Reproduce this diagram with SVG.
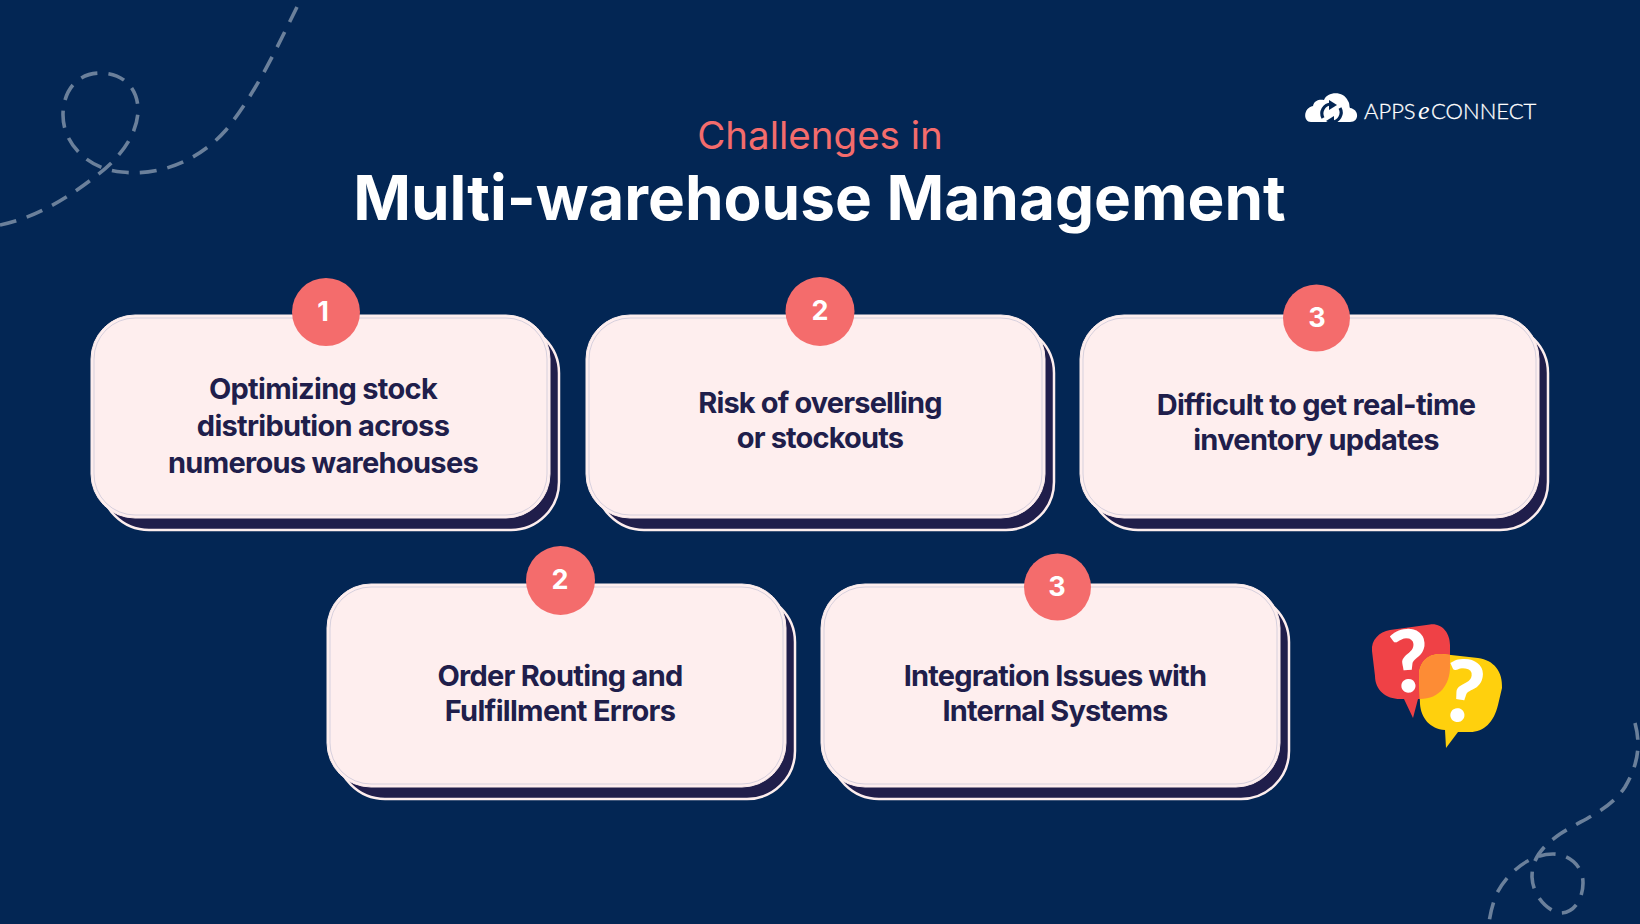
<svg xmlns="http://www.w3.org/2000/svg" width="1640" height="924" viewBox="0 0 1640 924">
<style>
.dash{fill:none;stroke:#6b809b;stroke-width:3.6;stroke-dasharray:17 11}
.back{fill:#201e4b;stroke:#fdeeee;stroke-width:2.5}
.face{fill:#feeeee;stroke:#fdeeee;stroke-width:1}
.inner{fill:none;stroke:#c6c3d6;stroke-width:.7}
.badge{fill:#f46c6c}
.num{font:700 27px Inter,"Liberation Sans",sans-serif;fill:#fff;text-anchor:middle}
.t{font:700 29px Inter,"Liberation Sans",sans-serif;fill:#201e4b;text-anchor:middle;letter-spacing:-.7px}
.tight{letter-spacing:-.85px}
.arrow{fill:none;stroke:#032654;stroke-width:3.2}
.logotext{font:300 22px Lato,"Liberation Sans",sans-serif;fill:#fff;stroke:#fff;stroke-width:.3}
.mark{font:900 86px Lato,"Liberation Sans",sans-serif;fill:#fff;text-anchor:middle}
</style>
<defs>
<g id="card">
<rect class="back" x="10" y="10" width="458" height="205" rx="48"/>
<rect class="face" x="0" y="0" width="459" height="203" rx="44"/>
<rect class="inner" x="3" y="3" width="453" height="197" rx="41"/>
</g>
<path id="redB" d="M1372 651C1371 640 1379 632 1390 630L1430 624.500C1442 623 1450 633 1450 645L1450 667C1450 684 1440 699 1420 699L1418 699L1413 718L1404 699L1400 699C1386 699 1375 690 1375 676Z"/>
<clipPath id="redClip"><use href="#redB"/></clipPath>
</defs>
<rect width="1640" height="924" fill="#032654"/>
<g id="decor">
<path class="dash" d="M297 7C278 45 258 90 226 130C196 164 155 176 122 172C90 170 63 145 63 115C63 90 78 73 100 73C125 73 138 90 138 110C138 135 118 160 96 176C68 198 35 218 0 225"/>
<path class="dash" d="M1635 723C1641 745 1638 765 1625 787C1610 810 1585 818 1560 834C1540 848 1532 860 1532 877C1533 900 1553 913 1560 913C1575 913 1583 898 1583 883C1583 865 1568 854 1553 854C1530 854 1508 872 1497 893C1492 905 1490 915 1489 923"/>
</g>
<g id="title">
<text x="820" y="148.500" font-family="Inter,'Liberation Sans',sans-serif" font-size="38.500" font-weight="400" fill="#f46c6c" text-anchor="middle">Challenges in</text>
<text x="819.500" y="220" font-family="Inter,'Liberation Sans',sans-serif" font-size="62" font-weight="700" fill="#fff" text-anchor="middle">Multi-warehouse Management</text>
</g>
<g id="logo">
<path fill="#fff" d="M1311 122C1303 122 1303 108 1313 106C1314 100 1320 99 1324 100C1327 92 1343 90 1348 101C1350 104 1349 106 1350 108C1359 109 1360 122 1350 122Z"/>
<path class="arrow" d="M1323 118A9.500 9.500 0 0 1 1331 104"/><path fill="#032654" d="M1329 100L1337 105L1329 110Z"/>
<path class="arrow" d="M1340 108A9.500 9.500 0 0 1 1332 122"/><path fill="#032654" d="M1334 126L1326 121L1334 116Z"/>
<text class="logotext" x="1364" y="119">APPS</text>
<text x="1418" y="119" font-family="'Liberation Serif',serif" font-style="italic" font-size="26" fill="#fff">e</text>
<text class="logotext" x="1431" y="119">CONNECT</text>
</g>
<g id="node1"><use href="#card" x="91" y="315"/><circle class="badge" cx="326" cy="312" r="34"/><text class="num" x="323" y="321">1</text>
<text class="t"><tspan x="323" y="399">Optimizing stock</tspan><tspan x="323" y="436">distribution across</tspan><tspan x="323" y="473">numerous warehouses</tspan></text></g>
<g id="node2"><use href="#card" x="586" y="315"/><circle class="badge" cx="820" cy="311.500" r="34.500"/><text class="num" x="820" y="320">2</text>
<text class="t tight"><tspan x="820" y="413">Risk of overselling</tspan><tspan x="820" y="448">or stockouts</tspan></text></g>
<g id="node3"><use href="#card" x="1080" y="315"/><circle class="badge" cx="1316.500" cy="318" r="33.500"/><text class="num" x="1317" y="327">3</text>
<text class="t"><tspan x="1316" y="415">Difficult to get real-time</tspan><tspan x="1316" y="450">inventory updates</tspan></text></g>
<g id="node4"><use href="#card" x="327" y="584"/><circle class="badge" cx="560.500" cy="580.500" r="34.500"/><text class="num" x="560" y="589">2</text>
<text class="t"><tspan x="560" y="686">Order Routing and</tspan><tspan x="560" y="721">Fulfillment Errors</tspan></text></g>
<g id="node5"><use href="#card" x="821" y="584"/><circle class="badge" cx="1057.500" cy="587" r="33.500"/><text class="num" x="1057" y="596">3</text>
<text class="t tight"><tspan x="1055" y="686">Integration Issues with</tspan><tspan x="1055" y="721">Internal Systems</tspan></text></g>
<g id="bubbles">
<use href="#redB" fill="#ef4146"/>
<path id="yel" fill="#ffd00d" d="M1419 676C1419 662 1428 653 1442 654L1478 658C1494 660 1503 672 1502 688L1498 705C1494 722 1484 732 1470 732L1458 732L1446 748L1445 730C1430 729 1421 718 1420 704Z"/>
<g clip-path="url(#redClip)"><path fill="#fd8c35" d="M1419 676C1419 662 1428 653 1442 654L1478 658C1494 660 1503 672 1502 688L1498 705C1494 722 1484 732 1470 732L1458 732L1446 748L1445 730C1430 729 1421 718 1420 704Z"/></g>
<text class="mark" x="1409" y="692" transform="rotate(-4 1409 663)">?</text>
<text class="mark" x="1463" y="722" transform="rotate(9 1463 694)">?</text>
</g>
</svg>
